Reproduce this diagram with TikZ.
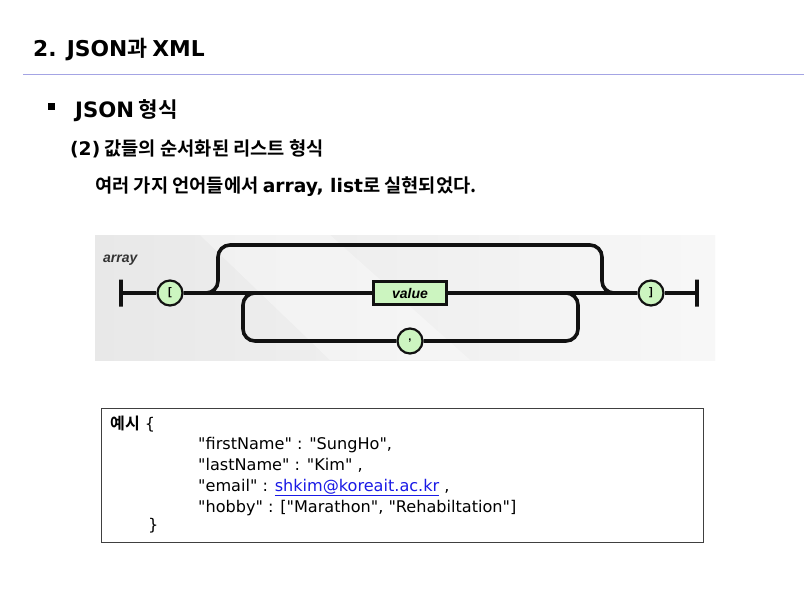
\documentclass[tikz,border=0pt]{standalone}
\usepackage{fontspec}
\setmainfont{Noto Sans CJK KR}[Ligatures=TeXOff,BoldFont=* Bold]
\newfontfamily\lat{DejaVu Sans}[Ligatures=TeXOff]
\newfontfamily\latcode{DejaVu Sans}[Ligatures=TeXOff]
\newfontfamily\railfont{Liberation Sans}
\usepackage{xcolor}
\definecolor{cRule}{HTML}{A4A4E4}
\definecolor{cRail}{HTML}{111111}
\definecolor{cTok}{HTML}{CCF5C0}
\definecolor{cLink}{HTML}{1A1AE6}
\usetikzlibrary{positioning,calc}
\tikzset{
  txt-title/.style={anchor=base west,inner sep=0,font=\bfseries\fontsize{21.8}{26}\selectfont},
  txt-head/.style={anchor=base west,inner sep=0,font=\bfseries\fontsize{21.2}{25}\selectfont},
  txt-body/.style={anchor=base west,inner sep=0,font=\bfseries\fontsize{18.7}{22}\selectfont},
  txt-code/.style={anchor=base west,inner sep=0,font=\latcode\fontsize{16.1}{19}\selectfont},
  rail/.style={draw=cRail,line width=3.6pt},
  rail-loop/.style={rail,rounded corners=12pt},
  node-tok/.style={draw=cRail,line width=2.2pt,circle,fill=cTok,minimum size=25pt,
    inner sep=0,font=\railfont\bfseries\fontsize{11}{12}\selectfont},
  node-val/.style={draw=cRail,line width=2.2pt,fill=cTok,minimum width=73pt,
    minimum height=23pt,inner sep=0,font=\railfont\bfseries\itshape\fontsize{14}{16}\selectfont},
  node-bar/.style={draw=cRail,line width=3.6pt,minimum height=27pt,minimum width=0pt,
    inner sep=0,outer sep=0},
}
\begin{document}
\begin{tikzpicture}[x=1pt,y=-1pt]
  \useasboundingbox[fill=white] (0,0) rectangle (804,598);
  % heading
  \node[txt-title] (title) at (33,56) {{\lat 2. JSON}과 {\lat XML}};
  \coordinate (ruleL) at (23,74);
  \coordinate (ruleR) at (804,74);
  \draw[cRule,line width=1pt] (ruleL) -- (ruleR);
  \fill (48,103) rectangle (55,110);
  \node[txt-head] (sec) at (75,117) {{\lat JSON} 형식};
  \node[txt-body] (sub) at (70,155) {{\lat (2)} 값들의 순서화된 리스트 형식};
  \node[txt-body] (desc) at (95,192) {여러 가지 언어들에서 {\lat array, list}로 실현되었다.};
  % railroad diagram
  \shade[left color=black!9,right color=black!3] (95,235) rectangle (715,360);
  \fill[white,opacity=0.35] (200,235) -- (330,235) -- (470,360) -- (330,360) -- cycle;
  \node[anchor=base west,inner sep=0,font=\railfont\bfseries\itshape\fontsize{14}{16}\selectfont,
    text=black!80] (lbl) at (103,262) {array};
  \node[node-bar] (startbar) at (121,293) {};
  \node[node-tok] (lbrack) at (170,293) {[};
  \node[node-val] (value) at (410,293) {value};
  \node[node-tok] (comma) at (410,341) {,};
  \node[node-tok] (rbrack) at (651,293) {]};
  \node[node-bar] (endbar) at (697,293) {};
  \coordinate (skipL) at (218,245);
  \coordinate (skipR) at (602,293);
  \coordinate (loopL) at (243,293);
  \coordinate (loopR) at (578,341);
  \draw[rail] (startbar.center) -- (lbrack);
  \draw[rail] (lbrack) -- (value);
  \draw[rail] (value) -- (rbrack);
  \draw[rail] (rbrack) -- (endbar.center);
  \draw[rail-loop] (lbrack.east) -| (skipL) -| (skipR) -- (rbrack.west);
  \draw[rail-loop] (value.east) -| (loopR) -- (comma.east);
  \draw[rail-loop] (comma.west) -| (loopL) -- (value.west);
  % example box
  \draw[black!75,line width=0.8pt] (101,408) rectangle (703,542);
  \node[txt-code] (ex) at (110,429) {{\rmfamily\bfseries 예시} \{};
  \node[txt-code] (l1) at (198,449) {"firstName" : "SungHo",};
  \node[txt-code] (l2) at (198,470) {"lastName" : "Kim" ,};
  \node[txt-code] (l3) at (198,491) {"email" : \textcolor{cLink}{\underline{shkim@koreait.ac.kr}} ,};
  \node[txt-code] (l4) at (198,512) {"hobby" : ["Marathon", "Rehabiltation"]};
  \node[txt-code] (ex-end) at (148,530) {\}};
\end{tikzpicture}
\end{document}
